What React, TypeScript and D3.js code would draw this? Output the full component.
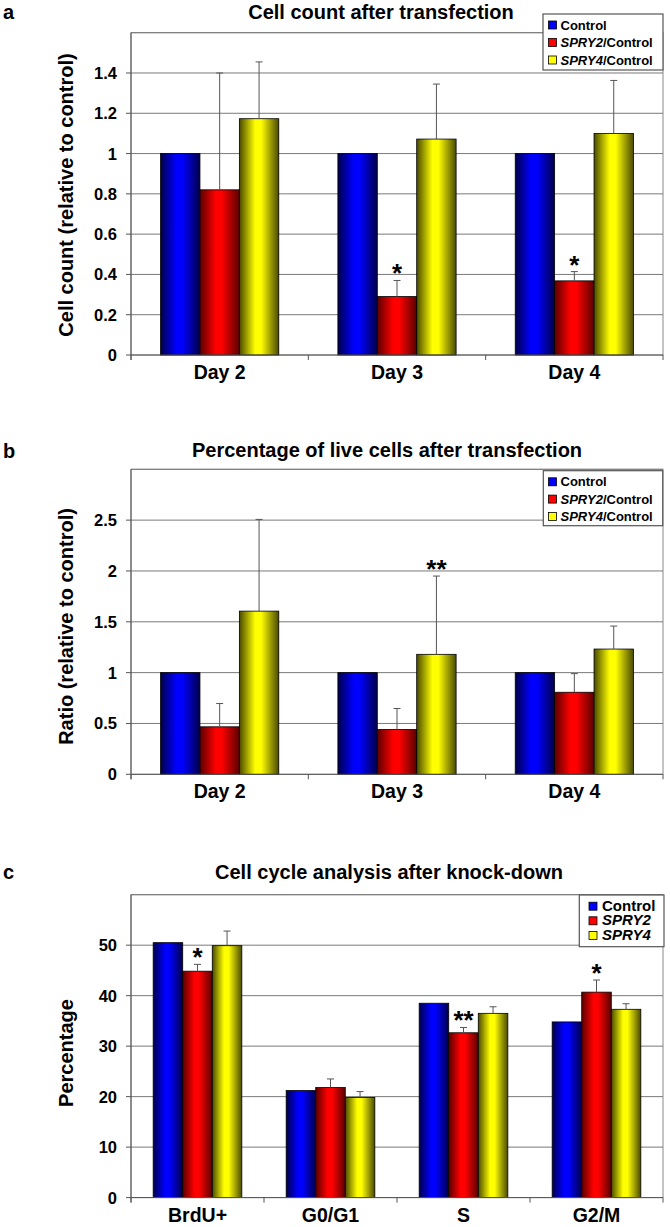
import React from "react";
import * as d3 from "d3";

// ---------- data ----------
const dayCategories = ["Day 2", "Day 3", "Day 4"];
const cycleCategories = ["BrdU+", "G0/G1", "S", "G2/M"];

const seriesKeys = ["control", "spry2", "spry4"];
const seriesColors = ["#0000ff", "#ff0000", "#ffff00"];
const seriesDark = ["#00004a", "#5a0000", "#4a4a00"];

// panel a
const aControl = [1, 1, 1];
const aSpry2 = [0.82, 0.29, 0.368];
const aSpry2Err = [0.58, 0.08, 0.046];
const aSpry4 = [1.173, 1.072, 1.1];
const aSpry4Err = [0.282, 0.273, 0.263];
const aTicks = [0, 0.2, 0.4, 0.6, 0.8, 1, 1.2, 1.4];
const aStars = [
  { cat: 1, series: 1, text: "*" },
  { cat: 2, series: 1, text: "*" },
];

// panel b
const bControl = [1, 1, 1];
const bSpry2 = [0.467, 0.441, 0.807];
const bSpry2Err = [0.229, 0.206, 0.183];
const bSpry4 = [1.605, 1.18, 1.232];
const bSpry4Err = [0.902, 0.77, 0.226];
const bTicks = [0, 0.5, 1, 1.5, 2, 2.5];
const bStars = [{ cat: 1, series: 2, text: "**" }];

// panel c
const cControl = [50.5, 21.2, 38.5, 34.8];
const cSpry2 = [44.85, 21.8, 32.65, 40.7];
const cSpry2Err = [1.35, 1.7, 1.05, 2.4];
const cSpry4 = [49.9, 19.85, 36.5, 37.3];
const cSpry4Err = [2.9, 1.15, 1.3, 1.1];
const cTicks = [0, 10, 20, 30, 40, 50];
const cStars = [
  { cat: 0, series: 1, text: "*" },
  { cat: 2, series: 1, text: "**" },
  { cat: 3, series: 1, text: "*" },
];

const legendABLabels = [
  { italic: "", normal: "Control" },
  { italic: "SPRY2", normal: "/Control" },
  { italic: "SPRY4", normal: "/Control" },
];
const legendCLabels = [
  { italic: "", normal: "Control" },
  { italic: "SPRY2", normal: "" },
  { italic: "SPRY4", normal: "" },
];

const FONT = "'Liberation Sans', Arial, Helvetica, sans-serif";

type Series = { values: number[]; err: number[] | null };

type PanelProps = {
  id: string;
  categories: string[];
  series: Series[];
  yMax: number;
  ticks: number[];
  x0: number;
  x1: number;
  top: number;
  bottom: number;
  title: string;
  titleX: number;
  titleY: number;
  panelLabel: string;
  panelLabelY: number;
  yLabel: string;
  yLabelCenter: number;
  stars: { cat: number; series: number; text: string }[];
  legend: {
    x: number;
    y: number;
    w: number;
    h: number;
    labels: { italic: string; normal: string }[];
    fontSize: number;
    firstBaseline: number;
    step: number;
    swatchX: number;
    textX: number;
  };
};

function Panel(p: PanelProps) {
  const xOuter = d3
    .scaleBand<string>()
    .domain(p.categories)
    .range([p.x0, p.x1])
    .paddingInner(0)
    .paddingOuter(0);
  const xInner = d3
    .scaleBand<string>()
    .domain(seriesKeys)
    .range([0, xOuter.bandwidth()])
    .paddingInner(0)
    .paddingOuter(0.75);
  const y = d3.scaleLinear().domain([0, p.yMax]).range([p.bottom, p.top]);
  const bw = xInner.bandwidth();
  const grid = p.ticks.filter((t) => t > 0).concat([p.yMax]);
  const boundaries = p.categories.map((c) => xOuter(c) as number).concat([p.x1]);

  return (
    <g>
      <rect
        x={p.x0}
        y={p.top}
        width={p.x1 - p.x0}
        height={p.bottom - p.top}
        fill="none"
        stroke="#8a8a8a"
        strokeWidth={1}
      />
      {grid.map((t) => (
        <line
          key={"g" + t}
          x1={p.x0}
          x2={p.x1}
          y1={y(t)}
          y2={y(t)}
          stroke="#7a7a7a"
          strokeWidth={1}
        />
      ))}
      {p.categories.map((c, ci) =>
        p.series.map((s, si) => {
          const bx = (xOuter(c) as number) + (xInner(seriesKeys[si]) as number);
          const v = s.values[ci];
          return (
            <rect
              key={c + si}
              x={bx}
              y={y(v)}
              width={bw}
              height={y(0) - y(v)}
              fill={`url(#${p.id}-grad${si})`}
              stroke="#000"
              strokeWidth={0.8}
            />
          );
        })
      )}
      {p.categories.map((c, ci) =>
        p.series.map((s, si) => {
          if (!s.err) return null;
          const cx = (xOuter(c) as number) + (xInner(seriesKeys[si]) as number) + bw / 2;
          const v = s.values[ci];
          const e = v + s.err[ci];
          return (
            <g key={"e" + c + si} stroke="#555" strokeWidth={1}>
              <line x1={cx} x2={cx} y1={y(v)} y2={y(e)} />
              <line x1={cx - 3.5} x2={cx + 3.5} y1={y(e)} y2={y(e)} />
            </g>
          );
        })
      )}
      {p.stars.map((st, i) => {
        const c = p.categories[st.cat];
        const s = p.series[st.series];
        const cx = (xOuter(c) as number) + (xInner(seriesKeys[st.series]) as number) + bw / 2;
        const top = s.values[st.cat] + (s.err ? s.err[st.cat] : 0);
        return (
          <text
            key={"s" + i}
            x={cx}
            y={y(top) + 2}
            textAnchor="middle"
            fontFamily={FONT}
            fontWeight="bold"
            fontSize={26}
            fill="#000"
          >
            {st.text}
          </text>
        );
      })}
      <line x1={p.x0} x2={p.x0} y1={p.top} y2={p.bottom + 5} stroke="#555" strokeWidth={1} />
      <line x1={p.x0} x2={p.x1} y1={p.bottom} y2={p.bottom} stroke="#555" strokeWidth={1} />
      {p.ticks.map((t) => (
        <g key={"t" + t}>
          <line x1={p.x0 - 5} x2={p.x0} y1={y(t)} y2={y(t)} stroke="#555" strokeWidth={1} />
          <text
            x={p.x0 - 14}
            y={y(t)}
            dy="0.36em"
            textAnchor="end"
            fontFamily={FONT}
            fontWeight="bold"
            fontSize={16.5}
            fill="#000"
          >
            {String(t)}
          </text>
        </g>
      ))}
      {boundaries.map((bx, i) => (
        <line key={"xt" + i} x1={bx} x2={bx} y1={p.bottom} y2={p.bottom + 5} stroke="#555" strokeWidth={1} />
      ))}
      {p.categories.map((c) => (
        <text
          key={"cl" + c}
          x={(xOuter(c) as number) + xOuter.bandwidth() / 2}
          y={p.bottom + 24}
          textAnchor="middle"
          fontFamily={FONT}
          fontWeight="bold"
          fontSize={19.5}
          fill="#000"
        >
          {c}
        </text>
      ))}
      <text
        transform={`translate(73,${p.yLabelCenter}) rotate(-90)`}
        textAnchor="middle"
        fontFamily={FONT}
        fontWeight="bold"
        fontSize={20}
        fill="#000"
      >
        {p.yLabel}
      </text>
      <text
        x={p.titleX}
        y={p.titleY}
        textAnchor="middle"
        fontFamily={FONT}
        fontWeight="bold"
        fontSize={20}
        fill="#000"
      >
        {p.title}
      </text>
      <text
        x={3}
        y={p.panelLabelY}
        fontFamily={FONT}
        fontWeight="bold"
        fontSize={20}
        fill="#000"
      >
        {p.panelLabel}
      </text>
      <rect
        x={p.legend.x}
        y={p.legend.y}
        width={p.legend.w}
        height={p.legend.h}
        fill="#fff"
        stroke="#555"
        strokeWidth={1.2}
      />
      {p.legend.labels.map((l, i) => {
        const by = p.legend.firstBaseline + i * p.legend.step;
        return (
          <g key={"l" + i}>
            <rect
              x={p.legend.swatchX}
              y={by - 8.5}
              width={8}
              height={8}
              fill={seriesColors[i]}
              stroke="#000"
              strokeWidth={0.8}
            />
            <text
              x={p.legend.textX}
              y={by}
              fontFamily={FONT}
              fontWeight="bold"
              fontSize={p.legend.fontSize}
              fill="#000"
            >
              {l.italic ? <tspan fontStyle="italic">{l.italic}</tspan> : null}
              {l.normal ? <tspan>{l.normal}</tspan> : null}
            </text>
          </g>
        );
      })}
    </g>
  );
}

function Gradients({ id }: { id: string }) {
  return (
    <>
      {seriesColors.map((c, i) => (
        <linearGradient key={i} id={`${id}-grad${i}`} x1="0" x2="1" y1="0" y2="0">
          <stop offset="0%" stopColor={seriesDark[i]} />
          <stop offset="40%" stopColor={c} />
          <stop offset="55%" stopColor={c} />
          <stop offset="100%" stopColor={seriesDark[i]} />
        </linearGradient>
      ))}
    </>
  );
}

export default function App() {
  const X0 = 131;
  const X1 = 663;
  return (
    <svg
      width={670}
      height={1227}
      viewBox="0 0 670 1227"
      style={{ position: "absolute", left: 0, top: 0, background: "#fff" }}
    >
      <defs>
        <Gradients id="pa" />
        <Gradients id="pb" />
        <Gradients id="pc" />
      </defs>
      <rect x={0} y={0} width={670} height={1227} fill="#fff" />
      <Panel
        id="pa"
        categories={dayCategories}
        series={[
          { values: aControl, err: null },
          { values: aSpry2, err: aSpry2Err },
          { values: aSpry4, err: aSpry4Err },
        ]}
        yMax={1.6}
        ticks={aTicks}
        x0={X0}
        x1={X1}
        top={32.7}
        bottom={355}
        title="Cell count after transfection"
        titleX={381}
        titleY={19}
        panelLabel="a"
        panelLabelY={19}
        yLabel="Cell count (relative to control)"
        yLabelCenter={195}
        stars={aStars}
        legend={{
          x: 543,
          y: 14,
          w: 120,
          h: 56,
          labels: legendABLabels,
          fontSize: 13,
          firstBaseline: 29.5,
          step: 17.5,
          swatchX: 548.5,
          textX: 560.5,
        }}
      />
      <Panel
        id="pb"
        categories={dayCategories}
        series={[
          { values: bControl, err: null },
          { values: bSpry2, err: bSpry2Err },
          { values: bSpry4, err: bSpry4Err },
        ]}
        yMax={3}
        ticks={bTicks}
        x0={X0}
        x1={X1}
        top={469.3}
        bottom={774.3}
        title="Percentage of live cells after transfection"
        titleX={387}
        titleY={457}
        panelLabel="b"
        panelLabelY={458}
        yLabel="Ratio (relative to control)"
        yLabelCenter={626.5}
        stars={bStars}
        legend={{
          x: 543.3,
          y: 470.7,
          w: 119.4,
          h: 55,
          labels: legendABLabels,
          fontSize: 13,
          firstBaseline: 486.3,
          step: 17.3,
          swatchX: 548.5,
          textX: 560.5,
        }}
      />
      <Panel
        id="pc"
        categories={cycleCategories}
        series={[
          { values: cControl, err: null },
          { values: cSpry2, err: cSpry2Err },
          { values: cSpry4, err: cSpry4Err },
        ]}
        yMax={60}
        ticks={cTicks}
        x0={X0}
        x1={X1}
        top={894.7}
        bottom={1197.6}
        title="Cell cycle analysis after knock-down"
        titleX={389}
        titleY={879}
        panelLabel="c"
        panelLabelY={879}
        yLabel="Percentage"
        yLabelCenter={1053}
        stars={cStars}
        legend={{
          x: 579.3,
          y: 895,
          w: 84.7,
          h: 51.7,
          labels: legendCLabels,
          fontSize: 15,
          firstBaseline: 910.7,
          step: 14.6,
          swatchX: 589,
          textX: 602,
        }}
      />
    </svg>
  );
}
